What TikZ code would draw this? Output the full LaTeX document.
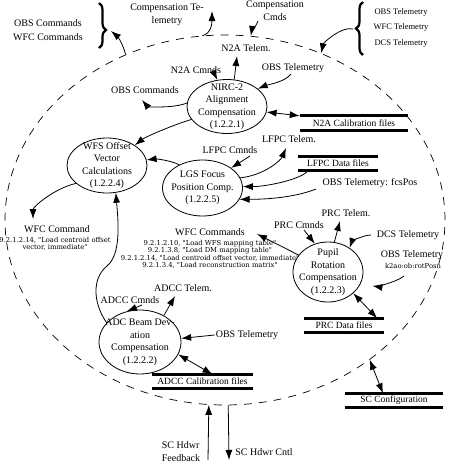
\documentclass[tikz,border=0pt]{standalone}
\usepackage{fontspec}
\setmainfont{Liberation Serif}
\newfontfamily\notefont{DejaVu Serif}
\usepackage{tikz}
\usetikzlibrary{arrows.meta, calc, shapes.geometric, decorations.pathreplacing}
\tikzset{
    boundary/.style={ellipse, draw, line width=0.7pt, dash pattern=on 8pt off 7pt, minimum width=440pt, minimum height=370pt, inner sep=0pt},
    process/.style={ellipse, draw, line width=0.8pt, minimum width=80pt, minimum height=54pt, inner xsep=-12pt, inner ysep=-10pt, align=center, font=\fontsize{10}{12.5}\selectfont},
    datafile/.style={inner sep=0pt, minimum height=14pt, font=\fontsize{9.5}{11}\selectfont},
    bar/.style={line width=3pt},
    lbl/.style={inner sep=1pt, align=center, font=\fontsize{10}{13}\selectfont},
    small/.style={inner sep=0pt, align=center, font=\notefont\fontsize{6.8}{7.3}\selectfont},
    flow/.style={-{Latex[length=10pt,width=7pt]}, line width=0.8pt},
    biflow/.style={{Latex[length=10pt,width=7pt]}-{Latex[length=10pt,width=7pt]}, line width=0.8pt},
    bigbrace/.style={decorate, line width=2.2pt}
}
\begin{document}
\begin{tikzpicture}[x=1pt, y=-1pt]
    \useasboundingbox (0,0) rectangle (454,467);
    % System boundary
    \node[boundary] (boundary) at (225,220) {};
    % Processes
    \node[process] (nirc) at (227,106.5) {NIRC-2\\Alignment\\Compensation\\(1.2.2.1)};
    \node[process, minimum height=55pt] (wfs) at (107,165.5) {WFS Offset\\Vector\\Calculations\\(1.2.2.4)};
    \node[process, minimum height=56pt] (lgs) at (202.5,188) {LGS Focus\\Position Comp.\\(1.2.2.5)};
    \node[process, minimum width=70pt, minimum height=60pt] (prc) at (328,272) {Pupil\\Rotation\\Compensation\\(1.2.2.3)};
    \node[process, minimum width=82pt, minimum height=64pt] (adc) at (140,342) {ADC Beam Dev-\\ation\\Compensation\\(1.2.2.2)};
    % Data files
    \node[datafile, minimum width=108pt] (n2acal) at (354,123) {N2A Calibration files};
    \node[datafile, minimum width=80pt] (lfpcdata) at (338,163.5) {LFPC Data files};
    \node[datafile, minimum width=80pt] (prcdata) at (344,325.5) {PRC Data files};
    \node[datafile, minimum width=100pt] (adccal) at (202.5,381.5) {ADCC Calibration files};
    \node[datafile, minimum width=98pt] (scconf) at (394,400.5) {SC Configuration};
    \foreach \f in {n2acal,lfpcdata,prcdata,adccal,scconf}{
        \draw[bar] (\f.north west) -- (\f.north east);
        \draw[bar] (\f.south west) -- (\f.south east);
    }
    % Outside flows with braces
    \node[lbl] (obscmdout) at (48,23) {OBS Commands};
    \node[lbl] (wfccmdout) at (48,37) {WFC Commands};
    \draw[bigbrace, decoration={brace, amplitude=7pt, aspect=0.6}] (99,3) -- (99,48);
    \coordinate (obstip) at (111,31);
    \node[lbl, font=\fontsize{8.5}{10}\selectfont] (obstelout) at (401,12) {OBS Telemetry};
    \node[lbl, font=\fontsize{8.5}{10}\selectfont] (wfctelout) at (401,27) {WFC Telemetry};
    \node[lbl, font=\fontsize{8.5}{10}\selectfont] (dcstelout) at (401,43) {DCS Telemetry};
    \draw[bigbrace, decoration={brace, amplitude=7pt}] (363,55) -- (363,2);
    \coordinate (teltip) at (353,29);
    \draw[flow] (boundary.121) .. controls +(-3,-12) and +(6,5) .. (obstip);
    \draw[flow] (teltip) .. controls +(-12,-3) and +(2,-10) .. (boundary.60);
    % Compensation telemetry and commands
    \node[lbl] (comptel) at (167,14.5) {Compensation Te-\\lemetry};
    \node[lbl] (compcmd) at (275,10.5) {Compensation\\Cmds};
    \coordinate (comptelend) at (212,11);
    \coordinate (compcmdstart) at (258,21);
    \draw[flow] (boundary.97) .. controls +(9,-2) and +(0,12) .. (comptelend);
    \draw[flow] (compcmdstart) .. controls +(-2,6) and +(1,-6) .. (boundary.82);
    % NIRC-2 alignment
    \node[lbl] (n2acmd) at (196,70) {N2A Cmnds};
    \node[lbl] (n2atel) at (246,48) {N2A Telem.};
    \node[lbl] (obstel1) at (293,68) {OBS Telemetry};
    \node[lbl] (obscmd1) at (145,90) {OBS Commands};
    \coordinate (n2acmdstart) at (214,73);
    \coordinate (n2atelend) at (237,56);
    \coordinate (obstel1start) at (291,74);
    \coordinate (obscmd1end) at (142,100);
    \draw[flow] (n2acmdstart) -- (nirc.110);
    \draw[flow] (nirc.75) -- (n2atelend);
    \draw[flow] (obstel1start) .. controls +(-6,8) and +(10,-4) .. (nirc.30);
    \draw[flow] (nirc.175) .. controls +(-15,6) and +(5,6) .. (obscmd1end);
    \draw[biflow] (nirc.-8) -- (n2acal.north west);
    \draw[flow] (nirc.200) .. controls +(-20,6) and +(10,-8) .. (wfs.36);
    % LGS focus
    \node[lbl] (lfpccmd) at (230,150) {LFPC Cmnds};
    \node[lbl] (lfpctel) at (289,139) {LFPC Telem.};
    \node[lbl] (fcspos) at (370,183) {OBS Telemetry: fcsPos};
    \coordinate (lfpccmdstart) at (250,156);
    \coordinate (lfpctelend) at (286,148);
    \coordinate (fcsposstart) at (316,189);
    \draw[flow] (lgs.135) .. controls +(-10,-5) and +(8,-1) .. (wfs.8);
    \draw[flow] (lfpccmdstart) -- (lgs.35);
    \draw[flow] (lgs.15) .. controls +(25,-3) and +(-5,12) .. (lfpctelend);
    \draw[flow] ($(lfpcdata.south west)+(10,0)$) .. controls +(-5,8) and +(25,0) .. (lgs.2);
    \draw[flow] (fcsposstart) .. controls +(-20,8) and +(30,0) .. (lgs.-17);
    % WFS offset vector
    \node[lbl] (wfccmd) at (57,229) {WFC Command};
    \node[small] (wfccmdtxt) at (55,244) {9.2.1.2.14, "Load centroid offset\\vector, immediate"};
    \coordinate (wfcend) at (33,219);
    \draw[flow] (wfs.210) .. controls +(-22,5) and +(0,-12) .. (wfcend);
    % Pupil rotation
    \node[lbl] (wfccmds) at (210,232) {WFC Commands};
    \node[small] (wfccmdstxt) at (210,254.5) {9.2.1.2.10, "Load WFS mapping table"\\9.2.1.3.8, "Load DM mapping table"\\9.2.1.2.14, "Load centroid offset vector, immediate"\\9.2.1.3.4, "Load reconstruction matrix"};
    \node[lbl] (prccmd) at (299,225) {PRC Cmnds};
    \node[lbl] (prctel) at (346,213) {PRC Telem.};
    \node[lbl] (dcstel) at (408,235) {DCS Telemetry};
    \node[lbl] (rottel) at (412,255) {OBS Telemetry};
    \node[small] (rotposn) at (413,265.5) {k2ao:ob:rotPosn};
    \coordinate (prccmdstart) at (304,230);
    \coordinate (prctelend) at (340,221);
    \coordinate (dcsstart) at (371,235);
    \coordinate (rotstart) at (404,276);
    \coordinate (wfccmdsend) at (257,234);
    \draw[flow] (prccmdstart) -- (prc.115);
    \draw[flow] (prc.78) -- (prctelend);
    \draw[flow] (dcsstart) .. controls +(-8,0) and +(2,-6) .. (prc.48);
    \draw[flow, shorten >=12pt] (rotstart) .. controls +(-10,8) and +(12,2) .. (prc.-20);
    \draw[flow] (prc.150) -- (wfccmdsend);
    \draw[biflow] (prc.-40) -- ($(prcdata.north east)+(-7,0)$);
    % ADC beam deviation
    \node[lbl] (adcctel) at (183,288) {ADCC Telem.};
    \node[lbl] (adcccmd) at (130,300) {ADCC Cmnds};
    \node[lbl] (obstel3) at (247,335) {OBS Telemetry};
    \coordinate (adcccmdstart) at (142,305);
    \coordinate (adcctelend) at (175,296);
    \draw[flow] (adc.150) .. controls +(-14,-20) and +(-15,12) .. (107,266) .. controls +(15,-12) and +(2,25) .. (wfs.-72);
    \draw[flow] (adcccmdstart) -- (adc.113);
    \draw[flow] (adc.48) -- (adcctelend);
    \draw[flow] (obstel3.west) -- (adc.5);
    \draw[biflow] (adc.-18) -- ($(adccal.north)+(10,0)$);
    % SC hardware and configuration
    \node[lbl, align=left] (scfb) at (181,452) {SC Hdwr\\Feedback};
    \node[lbl] (sccntl) at (264,452) {SC Hdwr Cntl};
    \coordinate (fbstart) at (208,460);
    \coordinate (cntlend) at (229,460);
    \draw[flow] (fbstart) -- (boundary.-95);
    \draw[flow] (boundary.-89) -- (cntlend);
    \draw[biflow] (boundary.-44) -- ($(scconf.north)+(-11,0)$);
\end{tikzpicture}
\end{document}
